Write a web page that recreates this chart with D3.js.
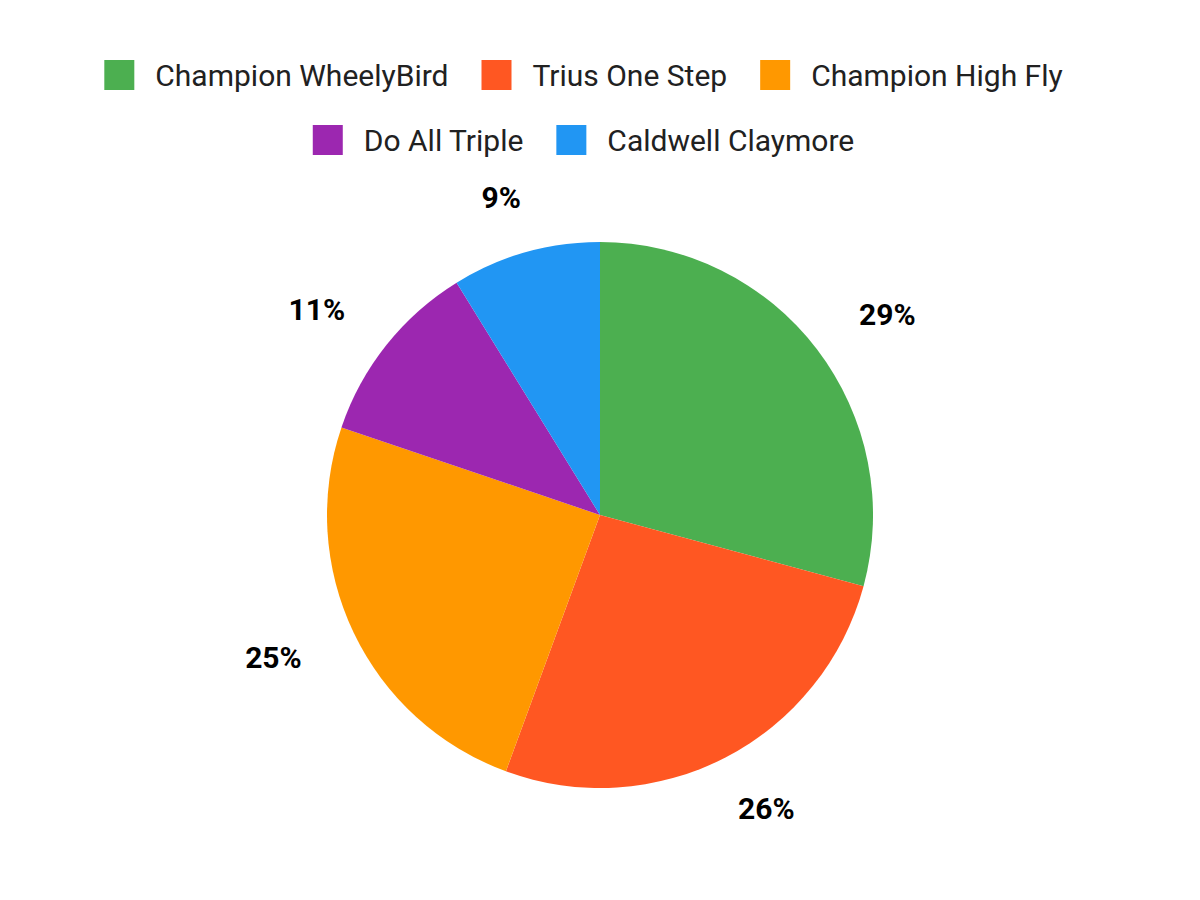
<!DOCTYPE html>
<html>
<head>
<meta charset="utf-8">
<script src="https://cdn.jsdelivr.net/npm/d3@7"></script>
<style>
  body { margin: 0; background: #fff; }
  svg { font-family: Roboto, "Noto Sans", sans-serif; }
</style>
</head>
<body>
<svg id="chart" width="1200" height="900"></svg>
<script>
const categories = ["Champion WheelyBird", "Trius One Step", "Champion High Fly", "Do All Triple", "Caldwell Claymore"];
const values = [29.2, 26.4, 24.6, 11.0, 8.8];
const colors = ["#4caf50", "#ff5722", "#ff9800", "#9c27b0", "#2196f3"];
const legendRows = [[0, 1, 2], [3, 4]];

let svg = d3.select("#chart"),
    cx = 600, cy = 515, radius = 273;

let data = categories.map((c, i) => ({ name: c, value: values[i], color: colors[i] }));

let pie = d3.pie().sort(null).value(d => d.value);
let arc = d3.arc().innerRadius(0).outerRadius(radius);
let total = d3.sum(values);

let g = svg.append("g").attr("transform", "translate(" + cx + "," + cy + ")");

let arcs = pie(data);

g.selectAll("path")
    .data(arcs)
    .enter()
    .append("path")
    .attr("d", arc)
    .attr("fill", d => d.data.color);

// percentage labels sit on an ellipse round the pie
let labelRx = radius + 89,
    labelRy = radius + 57;

g.selectAll("text.pct")
    .data(arcs)
    .enter()
    .append("text")
    .attr("class", "pct")
    .attr("text-anchor", "middle")
    .attr("dominant-baseline", "central")
    .style("font-size", "30px")
    .style("font-weight", "bold")
    .attr("fill", "#000")
    .attr("x", d => labelRx * Math.sin((d.startAngle + d.endAngle) / 2))
    .attr("y", d => -labelRy * Math.cos((d.startAngle + d.endAngle) / 2))
    .text(d => Math.round(d.value / total * 100) + "%");

// legend, two centred rows
let swatch = 30, textGap = 21, itemGap = 33;
let rowY = [60, 125];

legendRows.forEach(function(row, ri) {
    let lg = svg.append("g");
    let xpos = 0;
    row.forEach(function(i) {
        let item = lg.append("g").attr("transform", "translate(" + xpos + ",0)");
        item.append("rect")
            .attr("width", swatch)
            .attr("height", swatch)
            .attr("fill", colors[i]);
        let t = item.append("text")
            .attr("x", swatch + textGap)
            .attr("y", swatch / 2)
            .attr("dominant-baseline", "central")
            .style("font-size", "30px")
            .attr("fill", "#212121")
            .text(categories[i]);
        xpos += swatch + textGap + t.node().getComputedTextLength() + itemGap;
    });
    lg.attr("transform", "translate(" + (cx - xpos / 2) + "," + rowY[ri] + ")");
});
</script>
</body>
</html>
